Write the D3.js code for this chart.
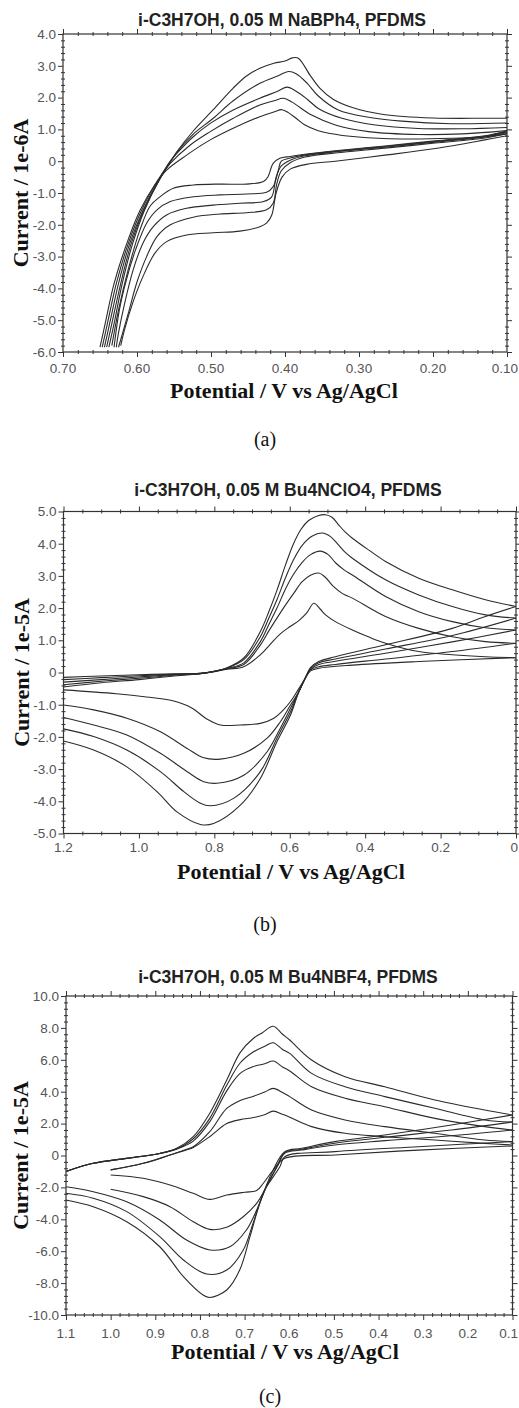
<!DOCTYPE html>
<html>
<head>
<meta charset="utf-8">
<script src="https://cdn.jsdelivr.net/npm/d3@7/dist/d3.min.js"></script>
<style>
  body { margin: 0; background: #fff; }
  svg { display: block; }
</style>
</head>
<body>
<div id="chart"></div>
<script>
// values: [potential (V), current]

// ---- panel (a) NaBPh4, current in 1e-6 A ----
const aXTicks = [0.7, 0.6, 0.5, 0.4, 0.3, 0.2, 0.1];
const aXLabels = ["0.70", "0.60", "0.50", "0.40", "0.30", "0.20", "0.10"];
const aYTicks = [4, 3, 2, 1, 0, -1, -2, -3, -4, -5, -6];
const aYLabels = ["4.0", "3.0", "2.0", "1.0", "0", "-1.0", "-2.0", "-3.0", "-4.0", "-5.0", "-6.0"];
const aUpper = [
  [[0.650,-5.85],[0.642,-5.0],[0.631,-3.85],[0.614,-2.6],[0.596,-1.55],[0.576,-0.75],[0.560,-0.28],[0.533,0.19],[0.501,0.67],[0.465,1.09],[0.434,1.40],[0.415,1.55],[0.404,1.62],[0.395,1.52],[0.385,1.35],[0.373,1.14],[0.355,0.96],[0.341,0.88],[0.301,0.76],[0.242,0.70],[0.175,0.72],[0.130,0.77],[0.100,0.86]],
  [[0.647,-5.85],[0.639,-5.0],[0.628,-3.85],[0.612,-2.6],[0.594,-1.55],[0.572,-0.6],[0.555,-0.07],[0.528,0.51],[0.501,0.93],[0.470,1.35],[0.434,1.77],[0.415,1.90],[0.402,1.98],[0.390,1.85],[0.364,1.45],[0.332,1.14],[0.287,0.93],[0.220,0.84],[0.160,0.86],[0.100,0.96]],
  [[0.644,-5.85],[0.636,-5.0],[0.625,-3.85],[0.610,-2.6],[0.592,-1.55],[0.571,-0.6],[0.555,0.0],[0.542,0.35],[0.524,0.77],[0.501,1.19],[0.470,1.61],[0.434,1.98],[0.410,2.20],[0.397,2.33],[0.385,2.20],[0.370,1.95],[0.355,1.66],[0.323,1.35],[0.278,1.14],[0.220,1.03],[0.160,1.02],[0.100,1.06]],
  [[0.641,-5.85],[0.633,-5.0],[0.622,-3.85],[0.608,-2.6],[0.591,-1.55],[0.570,-0.6],[0.547,0.25],[0.524,0.85],[0.497,1.35],[0.470,1.90],[0.434,2.45],[0.410,2.68],[0.395,2.82],[0.385,2.75],[0.370,2.45],[0.355,2.05],[0.328,1.61],[0.287,1.38],[0.242,1.26],[0.175,1.18],[0.100,1.20]],
  [[0.638,-5.85],[0.630,-5.0],[0.620,-3.85],[0.606,-2.6],[0.590,-1.55],[0.569,-0.55],[0.546,0.3],[0.524,0.95],[0.497,1.62],[0.470,2.30],[0.452,2.68],[0.434,2.92],[0.415,3.08],[0.400,3.15],[0.390,3.25],[0.382,3.24],[0.366,2.70],[0.353,2.30],[0.335,1.95],[0.308,1.68],[0.267,1.47],[0.200,1.36],[0.130,1.35],[0.100,1.35]]
];
const aLower = [
  [[0.100,0.96],[0.130,0.80],[0.197,0.64],[0.265,0.48],[0.332,0.33],[0.373,0.22],[0.393,0.15],[0.407,0.09],[0.416,-0.07],[0.423,-0.49],[0.429,-0.64],[0.452,-0.72],[0.488,-0.72],[0.524,-0.75],[0.551,-0.85],[0.569,-1.12],[0.582,-1.40],[0.596,-2.16],[0.612,-3.42],[0.625,-4.68],[0.634,-5.80]],
  [[0.100,0.93],[0.130,0.78],[0.197,0.62],[0.265,0.46],[0.332,0.31],[0.373,0.20],[0.393,0.10],[0.405,0.0],[0.409,-0.28],[0.416,-0.80],[0.425,-0.98],[0.452,-1.03],[0.488,-1.06],[0.524,-1.12],[0.555,-1.27],[0.573,-1.53],[0.587,-1.95],[0.602,-2.79],[0.614,-3.70],[0.624,-4.70],[0.631,-5.85]],
  [[0.100,0.90],[0.130,0.76],[0.197,0.60],[0.265,0.44],[0.332,0.29],[0.373,0.17],[0.393,0.03],[0.405,-0.15],[0.412,-0.50],[0.418,-1.12],[0.429,-1.27],[0.461,-1.32],[0.497,-1.38],[0.533,-1.48],[0.560,-1.69],[0.578,-2.06],[0.592,-2.58],[0.605,-3.40],[0.617,-4.50],[0.625,-5.40],[0.628,-5.85]],
  [[0.100,0.87],[0.130,0.73],[0.197,0.57],[0.265,0.41],[0.332,0.26],[0.373,0.13],[0.393,-0.05],[0.405,-0.30],[0.411,-0.70],[0.416,-1.32],[0.425,-1.53],[0.452,-1.62],[0.488,-1.66],[0.524,-1.76],[0.555,-2.00],[0.573,-2.37],[0.587,-3.00],[0.600,-3.80],[0.612,-4.80],[0.625,-5.85]],
  [[0.100,0.80],[0.130,0.67],[0.197,0.40],[0.265,0.19],[0.332,0.0],[0.371,-0.10],[0.393,-0.25],[0.404,-0.50],[0.412,-1.00],[0.418,-1.70],[0.425,-1.95],[0.434,-2.06],[0.461,-2.20],[0.497,-2.25],[0.533,-2.32],[0.560,-2.53],[0.576,-2.90],[0.592,-3.63],[0.606,-4.47],[0.617,-5.31],[0.622,-5.80]]
];

// ---- panel (b) Bu4NClO4, current in 1e-5 A ----
const bXTicks = [1.2, 1.0, 0.8, 0.6, 0.4, 0.2, 0];
const bXLabels = ["1.2", "1.0", "0.8", "0.6", "0.4", "0.2", "0"];
const bYTicks = [5, 4, 3, 2, 1, 0, -1, -2, -3, -4, -5];
const bYLabels = ["5.0", "4.0", "3.0", "2.0", "1.0", "0", "-1.0", "-2.0", "-3.0", "-4.0", "-5.0"];
const bUpper = [
  [[1.2,-0.15],[1.1,-0.11],[1.0,-0.07],[0.9,-0.04],[0.828,-0.02],[0.766,0.10],[0.722,0.18],[0.678,0.55],[0.650,0.90],[0.625,1.20],[0.600,1.42],[0.575,1.62],[0.555,1.85],[0.536,2.15],[0.520,1.98],[0.505,1.79],[0.479,1.58],[0.434,1.32],[0.390,1.10],[0.346,0.91],[0.258,0.65],[0.169,0.55],[0.081,0.49],[0.0,0.46]],
  [[1.2,-0.22],[1.1,-0.16],[1.0,-0.10],[0.9,-0.05],[0.828,-0.02],[0.766,0.12],[0.722,0.25],[0.678,0.85],[0.655,1.30],[0.634,1.69],[0.611,2.10],[0.590,2.45],[0.567,2.82],[0.545,3.02],[0.523,3.09],[0.505,2.95],[0.485,2.68],[0.460,2.45],[0.434,2.31],[0.346,1.74],[0.258,1.37],[0.169,1.11],[0.081,0.96],[0.0,0.91]],
  [[1.2,-0.30],[1.1,-0.22],[1.0,-0.14],[0.9,-0.06],[0.828,-0.02],[0.766,0.13],[0.722,0.30],[0.678,0.96],[0.655,1.50],[0.634,2.00],[0.611,2.60],[0.590,3.05],[0.567,3.42],[0.545,3.66],[0.519,3.77],[0.498,3.66],[0.478,3.40],[0.455,3.18],[0.434,3.03],[0.346,2.36],[0.258,1.89],[0.169,1.58],[0.081,1.39],[0.0,1.32]],
  [[1.2,-0.38],[1.1,-0.27],[1.0,-0.18],[0.9,-0.08],[0.828,-0.02],[0.766,0.14],[0.722,0.40],[0.678,1.11],[0.655,1.70],[0.634,2.26],[0.611,2.95],[0.590,3.50],[0.567,3.95],[0.540,4.24],[0.514,4.33],[0.492,4.22],[0.472,3.98],[0.452,3.72],[0.434,3.55],[0.346,2.88],[0.258,2.41],[0.169,2.05],[0.081,1.79],[0.0,1.69]],
  [[1.2,-0.45],[1.1,-0.32],[1.0,-0.22],[0.9,-0.10],[0.828,-0.02],[0.766,0.15],[0.722,0.45],[0.678,1.27],[0.655,1.90],[0.634,2.55],[0.611,3.35],[0.590,4.00],[0.570,4.45],[0.550,4.72],[0.525,4.87],[0.505,4.90],[0.488,4.82],[0.470,4.58],[0.452,4.35],[0.434,4.17],[0.390,3.80],[0.346,3.45],[0.258,2.93],[0.169,2.57],[0.081,2.26],[0.0,2.05]]
];
const bLower = [
  [[0.0,0.46],[0.258,0.34],[0.434,0.23],[0.523,0.13],[0.545,0.05],[0.560,-0.20],[0.576,-0.50],[0.598,-0.90],[0.620,-1.20],[0.642,-1.42],[0.678,-1.58],[0.731,-1.63],[0.784,-1.63],[0.819,-1.45],[0.860,-1.10],[0.910,-0.88],[0.980,-0.76],[1.06,-0.66],[1.2,-0.54]],
  [[0.0,0.91],[0.169,0.65],[0.346,0.42],[0.479,0.25],[0.523,0.18],[0.545,0.08],[0.560,-0.20],[0.576,-0.60],[0.598,-1.01],[0.625,-1.53],[0.660,-2.04],[0.722,-2.51],[0.784,-2.69],[0.828,-2.65],[0.872,-2.36],[0.943,-1.84],[1.032,-1.42],[1.12,-1.16],[1.2,-1.01]],
  [[0.0,1.32],[0.169,0.95],[0.346,0.60],[0.479,0.35],[0.523,0.25],[0.545,0.10],[0.560,-0.20],[0.576,-0.60],[0.598,-1.11],[0.625,-1.73],[0.660,-2.46],[0.722,-3.19],[0.793,-3.44],[0.828,-3.39],[0.872,-3.08],[0.943,-2.51],[1.032,-1.94],[1.12,-1.63],[1.2,-1.40]],
  [[0.0,1.69],[0.169,1.15],[0.346,0.73],[0.479,0.42],[0.523,0.30],[0.545,0.12],[0.560,-0.20],[0.576,-0.60],[0.598,-1.22],[0.634,-2.04],[0.678,-3.08],[0.749,-3.91],[0.811,-4.14],[0.837,-4.06],[0.881,-3.70],[0.943,-3.08],[1.032,-2.41],[1.12,-1.99],[1.2,-1.75]],
  [[0.0,2.05],[0.081,1.74],[0.169,1.37],[0.346,0.86],[0.479,0.49],[0.523,0.34],[0.545,0.15],[0.560,-0.20],[0.576,-0.60],[0.598,-1.32],[0.634,-2.15],[0.678,-3.29],[0.731,-4.12],[0.802,-4.69],[0.837,-4.72],[0.899,-4.33],[0.952,-3.70],[1.032,-2.93],[1.12,-2.41],[1.2,-2.13]]
];

// ---- panel (c) Bu4NBF4, current in 1e-5 A ----
const cXTicks = [1.1, 1.0, 0.9, 0.8, 0.7, 0.6, 0.5, 0.4, 0.3, 0.2, 0.1];
const cXLabels = ["1.1", "1.0", "0.9", "0.8", "0.7", "0.6", "0.5", "0.4", "0.3", "0.2", "0.1"];
const cYTicks = [10, 8, 6, 4, 2, 0, -2, -4, -6, -8, -10];
const cYLabels = ["10.0", "8.0", "6.0", "4.0", "2.0", "0", "-2.0", "-4.0", "-6.0", "-8.0", "-10.0"];
const cUpper = [
  [[1.0,-0.9],[0.927,-0.49],[0.867,0.03],[0.830,0.35],[0.815,0.50],[0.778,1.18],[0.740,2.00],[0.710,2.25],[0.680,2.38],[0.655,2.55],[0.636,2.78],[0.615,2.58],[0.599,2.40],[0.550,1.81],[0.475,1.39],[0.386,1.18],[0.274,0.97],[0.162,0.76],[0.1,0.66]],
  [[1.0,-0.9],[0.927,-0.49],[0.867,0.03],[0.830,0.39],[0.815,0.55],[0.778,1.49],[0.740,2.95],[0.710,3.45],[0.680,3.72],[0.655,3.98],[0.636,4.21],[0.615,3.95],[0.599,3.69],[0.550,2.85],[0.475,2.23],[0.386,1.81],[0.274,1.39],[0.162,0.97],[0.1,0.87]],
  [[1.1,-1.0],[1.039,-0.49],[0.964,-0.18],[0.890,0.13],[0.852,0.40],[0.815,0.90],[0.778,2.12],[0.740,4.05],[0.710,5.15],[0.680,5.58],[0.655,5.75],[0.636,5.92],[0.615,5.55],[0.599,5.30],[0.550,4.31],[0.475,3.59],[0.386,3.06],[0.274,2.33],[0.162,1.81],[0.1,1.60]],
  [[1.1,-1.0],[1.039,-0.49],[0.964,-0.18],[0.890,0.13],[0.852,0.42],[0.815,1.05],[0.778,2.33],[0.740,4.40],[0.710,5.80],[0.680,6.50],[0.655,6.85],[0.636,7.07],[0.615,6.65],[0.599,6.40],[0.550,5.15],[0.475,4.31],[0.386,3.69],[0.274,2.96],[0.162,2.23],[0.1,2.10]],
  [[1.1,-1.0],[1.039,-0.49],[0.964,-0.18],[0.890,0.13],[0.852,0.45],[0.815,1.18],[0.778,2.65],[0.740,4.73],[0.710,6.45],[0.680,7.35],[0.660,7.70],[0.636,8.10],[0.615,7.60],[0.599,7.24],[0.550,5.99],[0.475,4.94],[0.386,4.31],[0.274,3.48],[0.162,2.85],[0.1,2.54]]
];
const cLower = [
  [[0.1,0.60],[0.311,0.34],[0.498,0.03],[0.610,-0.18],[0.636,-0.91],[0.658,-1.74],[0.673,-2.20],[0.700,-2.30],[0.740,-2.48],[0.778,-2.75],[0.815,-2.37],[0.867,-1.85],[0.927,-1.43],[1.0,-1.22]],
  [[0.1,0.87],[0.311,0.55],[0.498,0.24],[0.610,-0.08],[0.621,-0.71],[0.651,-1.96],[0.673,-3.00],[0.703,-3.84],[0.740,-4.50],[0.778,-4.63],[0.815,-4.15],[0.867,-3.21],[0.927,-2.58],[1.0,-2.12]],
  [[0.1,1.60],[0.237,1.24],[0.386,0.93],[0.498,0.66],[0.572,0.34],[0.610,0.14],[0.625,-0.60],[0.651,-1.96],[0.673,-3.42],[0.696,-4.67],[0.733,-5.72],[0.778,-5.92],[0.830,-5.30],[0.890,-4.04],[0.964,-2.90],[1.039,-2.27],[1.1,-1.96]],
  [[0.1,2.10],[0.237,1.60],[0.386,1.14],[0.498,0.77],[0.572,0.39],[0.610,0.18],[0.628,-0.70],[0.658,-2.37],[0.681,-4.25],[0.703,-5.92],[0.740,-7.18],[0.785,-7.43],[0.837,-6.55],[0.890,-5.09],[0.964,-3.52],[1.039,-2.68],[1.1,-2.37]],
  [[0.1,2.54],[0.237,1.91],[0.386,1.29],[0.498,0.87],[0.572,0.45],[0.610,0.24],[0.636,-0.91],[0.666,-3.00],[0.688,-5.09],[0.711,-7.18],[0.740,-8.43],[0.778,-8.90],[0.793,-8.75],[0.837,-7.60],[0.890,-5.72],[0.964,-4.15],[1.039,-3.21],[1.1,-2.79]]
];

const W = 519, H = 1408;
const svg = d3.select("#chart").append("svg").attr("width", W).attr("height", H);

const panels = [
  {
    title: "i-C3H7OH, 0.05 M NaBPh4, PFDMS", yTitle: "Current / 1e-6A", caption: "(a)",
    upper: aUpper, lower: aLower,
    xTicks: aXTicks, xLabels: aXLabels, yTicks: aYTicks, yLabels: aYLabels,
    xDomain: [0.7, 0.1], yDomain: [-6, 4], xMinor: 0.02, yMinor: 0.2,
    left: 63, right: 507, top: 34, bottom: 352,
    titleX: 282, titleY: 26, xLabelY: 373, xTitleX: 284, xTitleY: 398,
    yTitleX: 28, captionX: 265, captionY: 446
  },
  {
    title: "i-C3H7OH,  0.05 M Bu4NClO4, PFDMS", yTitle: "Current / 1e-5A", caption: "(b)",
    upper: bUpper, lower: bLower,
    xTicks: bXTicks, xLabels: bXLabels, yTicks: bYTicks, yLabels: bYLabels,
    xDomain: [1.2, 0], yDomain: [-5, 5], xMinor: 0.05, yMinor: 0.2,
    left: 63.5, right: 516, top: 511.5, bottom: 833.5,
    titleX: 288, titleY: 496, xLabelY: 852, xTitleX: 291, xTitleY: 879,
    yTitleX: 29, captionX: 265, captionY: 931
  },
  {
    title: "i-C3H7OH, 0.05 M Bu4NBF4, PFDMS", yTitle: "Current / 1e-5A", caption: "(c)",
    upper: cUpper, lower: cLower,
    xTicks: cXTicks, xLabels: cXLabels, yTicks: cYTicks, yLabels: cYLabels,
    xDomain: [1.1, 0.1], yDomain: [-10, 10], xMinor: 0.02, yMinor: 0.4,
    left: 66, right: 512.5, top: 996, bottom: 1315,
    titleX: 288, titleY: 983, xLabelY: 1338, xTitleX: 285, xTitleY: 1359,
    yTitleX: 28, captionX: 270, captionY: 1403
  }
];

// minor tick positions between the labelled ones
function minorTicks(domain, step, majors) {
  const lo = Math.min(...domain), hi = Math.max(...domain);
  return d3.range(lo, hi + step / 2, step)
    .map((v) => +v.toFixed(4))
    .filter((v) => !majors.some((m) => Math.abs(m - v) < step / 10));
}

function drawPanel(p) {
  const g = svg.append("g");
  const x = d3.scaleLinear().domain(p.xDomain).range([p.left, p.right]);
  const y = d3.scaleLinear().domain(p.yDomain).range([p.bottom, p.top]);

  const line = d3.line()
    .x((d) => x(d[0]))
    .y((d) => y(d[1]))
    .curve(d3.curveCatmullRom.alpha(0.5));

  g.append("g")
    .selectAll("path")
    .data(p.upper.concat(p.lower))
    .join("path")
    .attr("d", line)
    .attr("fill", "none")
    .attr("stroke", "#2b2b2b")
    .attr("stroke-width", 1.1);

  const xMin = minorTicks(p.xDomain, p.xMinor, p.xTicks);
  const yMin = minorTicks(p.yDomain, p.yMinor, p.yTicks);

  // ticks on all four sides: major ones outward, minor ones across the frame
  const sides = [
    { axis: d3.axisBottom(x), t: `translate(0,${p.bottom})`, major: p.xTicks, minor: xMin, a: "y1", inner: -2 },
    { axis: d3.axisTop(x), t: `translate(0,${p.top})`, major: p.xTicks, minor: xMin, a: "y1", inner: 2 },
    { axis: d3.axisLeft(y), t: `translate(${p.left},0)`, major: p.yTicks, minor: yMin, a: "x1", inner: 2 },
    { axis: d3.axisRight(y), t: `translate(${p.right},0)`, major: p.yTicks, minor: yMin, a: "x1", inner: -2 }
  ];
  sides.forEach((s) => {
    const maj = g.append("g").attr("transform", s.t)
      .call(s.axis.tickValues(s.major).tickSize(5).tickFormat(""));
    maj.select(".domain").remove();
    const mn = g.append("g").attr("transform", s.t)
      .call(s.axis.tickValues(s.minor).tickSize(2).tickFormat(""));
    mn.select(".domain").remove();
    mn.selectAll(".tick line").attr(s.a, s.inner);
  });
  g.selectAll(".tick line").attr("stroke", "#333");

  g.append("rect")
    .attr("x", p.left).attr("y", p.top)
    .attr("width", p.right - p.left).attr("height", p.bottom - p.top)
    .attr("fill", "none").attr("stroke", "#333").attr("stroke-width", 1.2);

  // tick labels
  g.append("g")
    .selectAll("text")
    .data(p.xTicks)
    .join("text")
    .attr("x", (d) => x(d))
    .attr("y", p.xLabelY)
    .attr("text-anchor", "middle")
    .attr("font-family", "'Liberation Sans', Arial, sans-serif")
    .attr("font-size", 13.5)
    .attr("fill", "#555")
    .text((d, i) => p.xLabels[i])
    .each(function () {
      // keep the last label inside the page
      const b = this.getBBox();
      if (b.x + b.width > W - 1) {
        d3.select(this).attr("x", +d3.select(this).attr("x") - (b.x + b.width - (W - 1)));
      }
    });

  g.append("g")
    .selectAll("text")
    .data(p.yTicks)
    .join("text")
    .attr("x", p.left - 7)
    .attr("y", (d) => y(d))
    .attr("dy", "0.36em")
    .attr("text-anchor", "end")
    .attr("font-family", "'Liberation Sans', Arial, sans-serif")
    .attr("font-size", 13.5)
    .attr("fill", "#555")
    .text((d, i) => p.yLabels[i]);

  // titles
  g.append("text")
    .attr("x", p.titleX).attr("y", p.titleY)
    .attr("text-anchor", "middle")
    .attr("font-family", "'Liberation Sans', Arial, sans-serif")
    .attr("font-weight", "bold")
    .attr("font-size", 17.5)
    .attr("fill", "#222")
    .text(p.title);

  g.append("text")
    .attr("x", p.xTitleX).attr("y", p.xTitleY)
    .attr("text-anchor", "middle")
    .attr("font-family", "'Liberation Serif', 'Times New Roman', serif")
    .attr("font-weight", "bold")
    .attr("font-size", 22)
    .attr("fill", "#111")
    .text("Potential / V vs Ag/AgCl");

  g.append("text")
    .attr("transform", `translate(${p.yTitleX},${(p.top + p.bottom) / 2}) rotate(-90)`)
    .attr("text-anchor", "middle")
    .attr("font-family", "'Liberation Serif', 'Times New Roman', serif")
    .attr("font-weight", "bold")
    .attr("font-size", 22)
    .attr("fill", "#111")
    .text(p.yTitle);

  g.append("text")
    .attr("x", p.captionX).attr("y", p.captionY)
    .attr("text-anchor", "middle")
    .attr("font-family", "'Liberation Serif', 'Times New Roman', serif")
    .attr("font-size", 20)
    .attr("fill", "#111")
    .text(p.caption);
}

panels.forEach(drawPanel);
</script>
</body>
</html>
